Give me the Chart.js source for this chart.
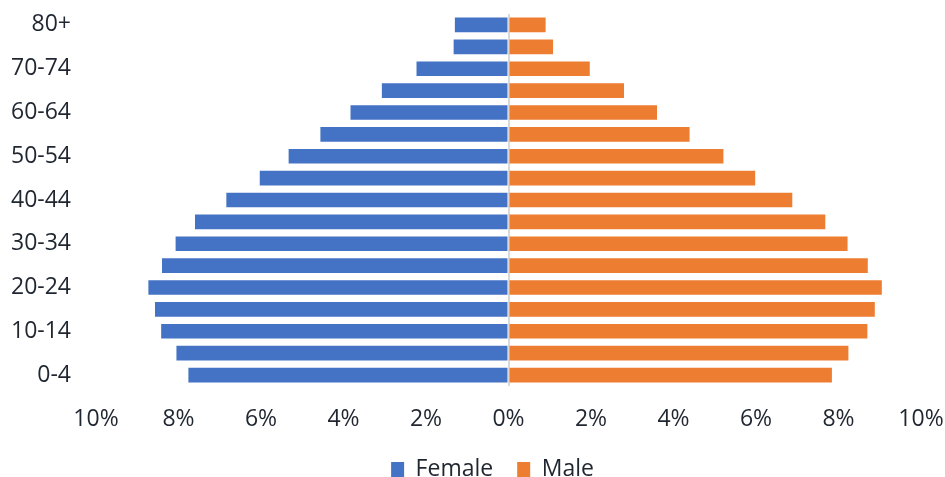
<!DOCTYPE html>
<html lang="en">

<head>
    <meta charset="UTF-8">
    <title>Population Pyramid</title>
    <script src="https://cdn.jsdelivr.net/npm/chart.js"></script>
    <style>
        html, body {
            margin: 0;
            padding: 0;
            background: #ffffff;
        }

        .chart-container {
            width: 945px;
            height: 477px;
        }
    </style>
</head>

<body>
    <div class="chart-container">
        <canvas id="pyramidChart"></canvas>
    </div>

    <script>
        // age groups, oldest first so 80+ sits at the top
        const ageGroups = ['80+', '75-79', '70-74', '65-69', '60-64', '55-59', '50-54', '45-49', '40-44',
            '35-39', '30-34', '25-29', '20-24', '15-19', '10-14', '5-9', '0-4'];

        // share of total population (%)
        const femaleShare = [1.30, 1.33, 2.23, 3.07, 3.83, 4.56, 5.33, 6.03, 6.84,
            7.60, 8.07, 8.40, 8.73, 8.57, 8.42, 8.05, 7.76];
        const maleShare = [0.90, 1.08, 1.97, 2.80, 3.60, 4.39, 5.21, 5.98, 6.88,
            7.68, 8.22, 8.71, 9.05, 8.88, 8.70, 8.24, 7.84];

        const xTicks = [-10, -8, -6, -4, -2, 0, 2, 4, 6, 8, 10];

        const textColor = '#1f2630';
        const font = { family: "'Open Sans', sans-serif", size: 23 };

        const ctx = document.getElementById('pyramidChart').getContext('2d');

        new Chart(ctx, {
            type: 'bar',
            data: {
                labels: ageGroups,
                datasets: [
                    {
                        label: 'Female',
                        // female side drawn to the left of zero
                        data: femaleShare.map(v => -v),
                        backgroundColor: '#4472C4',
                        barPercentage: 0.67,
                        categoryPercentage: 1.0
                    },
                    {
                        label: 'Male',
                        data: maleShare,
                        backgroundColor: '#ED7D31',
                        barPercentage: 0.67,
                        categoryPercentage: 1.0
                    }
                ]
            },
            options: {
                indexAxis: 'y',
                animation: false,
                responsive: true,
                maintainAspectRatio: false,
                layout: {
                    // negative right padding only nudges the legend to the right
                    padding: { left: 6, right: -34, top: 14, bottom: -14 }
                },
                plugins: {
                    tooltip: { enabled: false },
                    legend: {
                        position: 'bottom',
                        labels: {
                            color: textColor,
                            font: font,
                            boxWidth: 13,
                            boxHeight: 15,
                            padding: 24
                        }
                    }
                },
                scales: {
                    x: {
                        stacked: true,
                        min: -10,
                        max: 10,
                        afterBuildTicks: axis => {
                            axis.ticks = xTicks.map(v => ({ value: v }));
                        },
                        afterFit: axis => {
                            axis.height = 48;
                            axis.paddingLeft = 0;
                            axis.paddingRight = 24;
                        },
                        ticks: {
                            color: textColor,
                            font: font,
                            padding: 20,
                            callback: v => Math.abs(v) + '%'
                        },
                        grid: {
                            drawTicks: false,
                            lineWidth: 2,
                            color: c => (c.tick && c.tick.value === 0) ? '#d9d9d9' : 'rgba(0,0,0,0)'
                        },
                        border: { display: false }
                    },
                    y: {
                        stacked: true,
                        afterFit: axis => {
                            axis.width = 90;
                            axis.paddingTop = 0;
                            axis.paddingBottom = 0;
                        },
                        ticks: {
                            color: textColor,
                            font: font,
                            padding: 25,
                            autoSkip: false,
                            // label every second age group
                            callback: function (value, index) {
                                return index % 2 === 0 ? this.getLabelForValue(value) : '';
                            }
                        },
                        grid: { display: false, drawTicks: false },
                        border: { display: false }
                    }
                }
            }
        });
    </script>
</body>

</html>
